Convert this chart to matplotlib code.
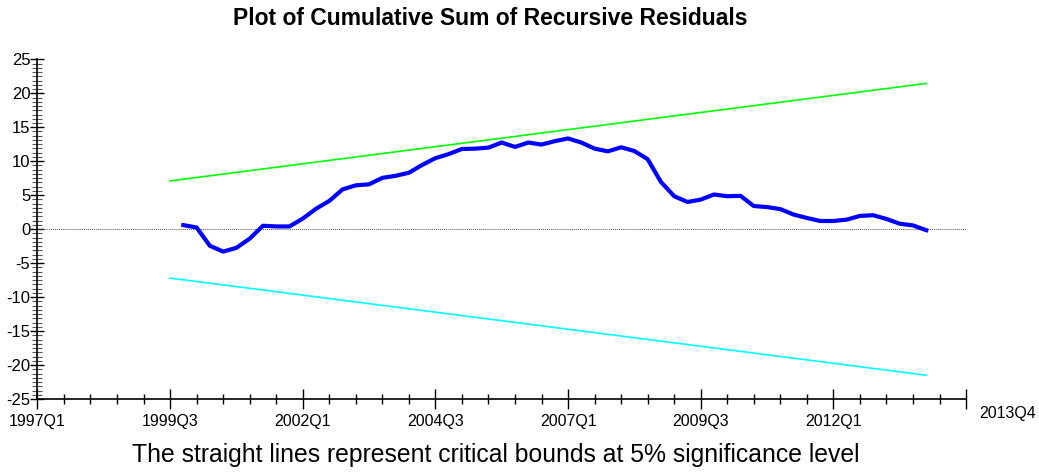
import numpy as np
import matplotlib
matplotlib.use('Agg')
import matplotlib.pyplot as plt
from matplotlib.ticker import MultipleLocator, FixedLocator

plt.rcParams['font.family'] = ['Liberation Sans', 'DejaVu Sans']
plt.rcParams['axes.unicode_minus'] = False

# quarters counted from 1997Q1 (= 0)
cusum_start = 11          # 1999Q4
cusum = [0.6, 0.25, -2.45, -3.3, -2.75, -1.4, 0.5, 0.4, 0.4, 1.55,
         3.0, 4.15, 5.85, 6.45, 6.6, 7.55, 7.85, 8.3, 9.45, 10.45,
         11.05, 11.8, 11.85, 12.0, 12.75, 12.1, 12.75, 12.45, 12.95, 13.35,
         12.75, 11.85, 11.45, 12.05, 11.5, 10.3, 6.95, 4.85, 4.0, 4.35,
         5.1, 4.85, 4.9, 3.4, 3.25, 2.95, 2.15, 1.65, 1.2, 1.2,
         1.4, 1.95, 2.05, 1.5, 0.8, 0.55, -0.15]
bound_q = [10, 67]        # 1999Q3 .. 2013Q4
upper = [7.1, 21.45]
lower = [-7.2, -21.5]

tick_pos = [0, 10, 20, 30, 40, 50, 60]
tick_lab = ['1997Q1', '1999Q3', '2002Q1', '2004Q3', '2007Q1', '2009Q3', '2012Q1']
end_label = '2013Q4'

fig = plt.figure(figsize=(10.39, 4.74), dpi=100)
ax = fig.add_axes([0.036, 0.1582, 0.8938, 0.7167])

q = np.arange(cusum_start, cusum_start + len(cusum))
ax.axhline(0, color='#555555', lw=0.7, ls=(0, (1, 1)))
ax.plot(bound_q, upper, color='#00ff00', lw=1.2)
ax.plot(bound_q, lower, color='#00ffff', lw=1.2)
ax.plot(q, cusum, color='#0000ff', lw=3.0, solid_joinstyle='round')

ax.set_xlim(0, 70)
ax.set_ylim(-25, 25)
ax.xaxis.set_major_locator(FixedLocator(tick_pos + [70]))
ax.set_xticklabels(tick_lab + [''])
ax.xaxis.set_minor_locator(MultipleLocator(2))
ax.yaxis.set_major_locator(MultipleLocator(5))
ax.yaxis.set_minor_locator(MultipleLocator(0.625))

for s in ['top', 'right']:
    ax.spines[s].set_visible(False)
ax.spines['left'].set_linewidth(1.2)
ax.spines['bottom'].set_linewidth(1.2)

ax.tick_params(axis='x', which='major', direction='inout', length=14, width=1, labelsize=11.5, pad=4)
ax.tick_params(axis='x', which='minor', direction='inout', length=7, width=1)
ax.tick_params(axis='y', which='major', direction='inout', length=10, width=1, labelsize=12, pad=0)
ax.tick_params(axis='y', which='minor', direction='inout', length=7, width=0.8, color='#555555')

ax.text(71.0, -26.0, end_label, fontsize=11.5, ha='left', va='top')

fig.text(0.472, 0.962, 'Plot of Cumulative Sum of Recursive Residuals',
         ha='center', va='center', fontsize=16.5, fontweight='bold')
fig.text(0.477, 0.04, 'The straight lines represent critical bounds at 5% significance level',
         ha='center', va='center', fontsize=17.8)

fig.savefig('out.png', dpi=100)
